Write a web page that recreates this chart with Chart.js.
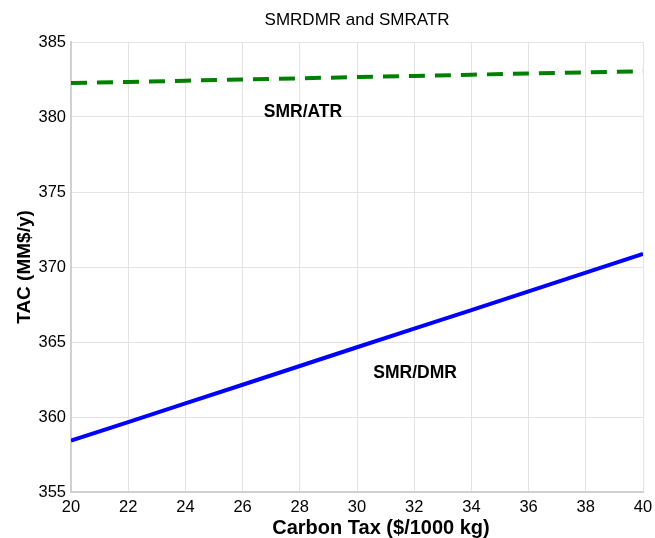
<!DOCTYPE html>
<html>
<head>
<meta charset="utf-8">
<script src="https://cdn.jsdelivr.net/npm/chart.js@4/dist/chart.umd.min.js"></script>
<style>
  html, body { margin: 0; padding: 0; background: #ffffff; }
  #wrap { width: 655px; height: 538px; position: relative; }
</style>
</head>
<body>
<div id="wrap"><canvas id="c" width="655" height="538"></canvas></div>
<script>
// Carbon tax values ($/1000 kg)
const carbonTax = [20, 22, 24, 26, 28, 30, 32, 34, 36, 38, 40];
// SMR/DMR total annual cost (MM$/y)
const smrDmr = [358.42, 359.66, 360.91, 362.15, 363.40, 364.65, 365.89, 367.13, 368.38, 369.62, 370.87];
// SMR/ATR total annual cost (MM$/y)
const smrAtr = [382.26, 382.34, 382.42, 382.50, 382.58, 382.66, 382.74, 382.82, 382.90, 382.98, 383.05];
const yTicks = [355, 360, 365, 370, 375, 380, 385];
const xTicks = [20, 22, 24, 26, 28, 30, 32, 34, 36, 38, 40];
const annotations = [
  { text: 'SMR/ATR', x: 28.11, y: 380.33 },
  { text: 'SMR/DMR', x: 32.03, y: 362.95 }
];
const chartTitle = 'SMRDMR and SMRATR';
const xTitle = 'Carbon Tax ($/1000 kg)';
const yTitle = 'TAC (MM$/y)';

const FONT = "'Liberation Sans', Arial, Helvetica, sans-serif";

const textPlugin = {
  id: 'textOverlay',
  afterDatasetsDraw(chart) {
    const ctx = chart.ctx;
    const xs = chart.scales.x, ys = chart.scales.y;
    const ca = chart.chartArea;
    const cx = (ca.left + ca.right) / 2;
    ctx.save();
    ctx.fillStyle = '#000000';
    ctx.textAlign = 'center';
    ctx.textBaseline = 'middle';
    // curve labels
    ctx.font = 'bold 17.5px ' + FONT;
    annotations.forEach(a => {
      ctx.fillText(a.text, xs.getPixelForValue(a.x), ys.getPixelForValue(a.y));
    });
    // chart title, centred over the plot area
    ctx.font = '17px ' + FONT;
    ctx.fillText(chartTitle, cx, 20);
    // x axis title (sits a little right of the plot centre in the original)
    ctx.font = 'bold 20px ' + FONT;
    ctx.fillText(xTitle, cx + 24, xs.bottom - 10);
    ctx.restore();
  }
};

new Chart(document.getElementById('c'), {
  type: 'line',
  data: {
    datasets: [
      {
        label: 'SMR/DMR',
        data: carbonTax.map((x, i) => ({ x: x, y: smrDmr[i] })),
        borderColor: '#0000ff',
        borderWidth: 4,
        pointRadius: 0,
        fill: false,
        tension: 0
      },
      {
        label: 'SMR/ATR',
        data: carbonTax.map((x, i) => ({ x: x, y: smrAtr[i] })),
        borderColor: '#008000',
        borderWidth: 4,
        borderDash: [16, 10],
        pointRadius: 0,
        fill: false,
        tension: 0
      }
    ]
  },
  options: {
    responsive: false,
    animation: false,
    devicePixelRatio: 1,
    layout: { padding: { top: 0, right: 12, bottom: 0, left: 0 } },
    plugins: {
      legend: { display: false },
      tooltip: { enabled: false },
      title: {
        display: true,
        text: chartTitle,
        color: 'rgba(0,0,0,0)',
        font: { family: FONT, size: 17, weight: 'normal' },
        padding: { top: 9.8, bottom: 11.8 }
      }
    },
    scales: {
      x: {
        type: 'linear',
        min: 20,
        max: 40,
        afterBuildTicks(scale) { scale.ticks = xTicks.map(v => ({ value: v })); },
        afterFit(scale) { scale.height = 46; scale.paddingRight = 0; scale.paddingLeft = 0; },
        ticks: {
          color: '#000000',
          font: { family: FONT, size: 16.5 },
          padding: 6,
          maxRotation: 0
        },
        grid: { color: '#e3e3e3', lineWidth: 1, drawTicks: false },
        border: { color: '#d0d0d0', width: 2 },
        title: { display: false, text: xTitle }
      },
      y: {
        type: 'linear',
        min: 355,
        max: 385,
        afterBuildTicks(scale) { scale.ticks = yTicks.map(v => ({ value: v })); },
        afterFit(scale) { scale.width = 71; },
        ticks: {
          color: '#000000',
          font: { family: FONT, size: 16.5 },
          padding: 5
        },
        grid: { color: '#e3e3e3', lineWidth: 1, drawTicks: false },
        border: { color: '#d0d0d0', width: 2 },
        title: {
          display: true,
          text: yTitle,
          color: '#000000',
          font: { family: FONT, size: 19, weight: 'bold' },
          padding: { top: 13.6, bottom: 0 }
        }
      }
    }
  },
  plugins: [textPlugin]
});
</script>
</body>
</html>
